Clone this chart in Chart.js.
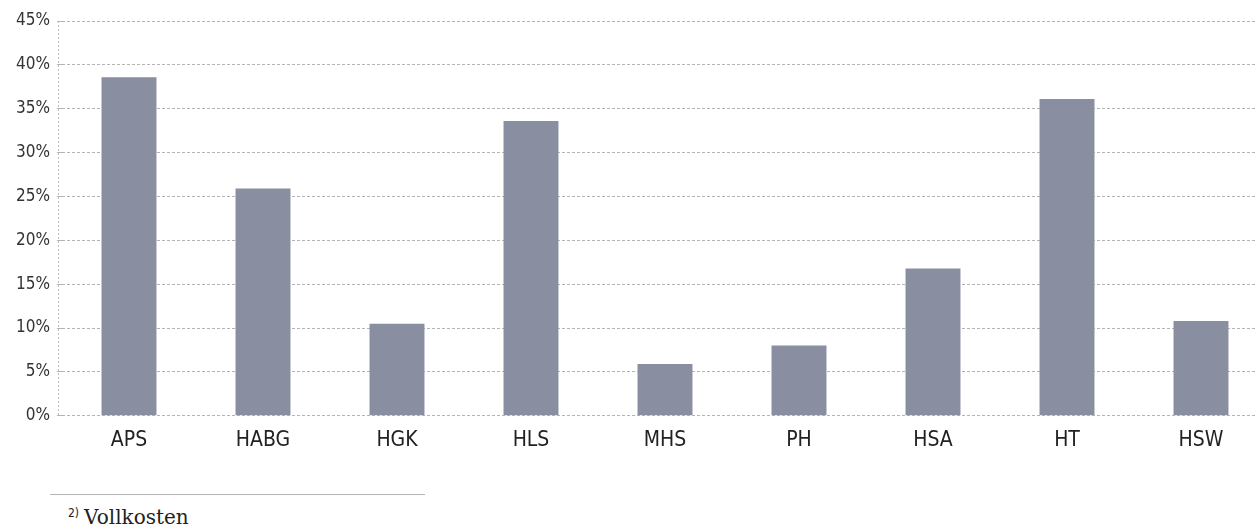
<!DOCTYPE html>
<html>
<head>
<meta charset="utf-8">
<script src="https://cdn.jsdelivr.net/npm/chart.js@4.4.1/dist/chart.umd.min.js"></script>
<style>
  html, body { margin: 0; padding: 0; background: #fff; overflow: hidden; }
  #wrap { position: relative; width: 1255px; height: 528px; overflow: hidden; }
  #chart { position: absolute; left: 0; top: 0; }
  #rule { position: absolute; left: 50px; top: 494px; width: 375px; border-top: 1px solid #b4b4b4; }
  #note { position: absolute; left: 68px; top: 505px; font-family: "DejaVu Serif", serif; font-size: 20px; color: #222; white-space: nowrap; }
  #note sup { font-family: "Liberation Sans Narrow", "DejaVu Sans Condensed", sans-serif; font-size: 12px; vertical-align: 7px; margin-right: 5px; }
</style>
</head>
<body>
<div id="wrap">
  <canvas id="chart" width="1272" height="458"></canvas>
  <div id="rule"></div>
  <div id="note"><sup>2)</sup>Vollkosten</div>
</div>
<script>
  // категории и значения (доля в %)
  const categories = ["APS", "HABG", "HGK", "HLS", "MHS", "PH", "HSA", "HT", "HSW"];
  const values = [38.6, 25.9, 10.5, 33.6, 5.9, 8.0, 16.8, 36.1, 10.8];
  const yTicks = [0, 5, 10, 15, 20, 25, 30, 35, 40, 45];

  const axisFont = '"Liberation Sans Narrow", "DejaVu Sans Condensed", "Roboto", sans-serif';

  // пунктирная вертикальная линия слева от области графика
  const leftLine = {
    id: "leftLine",
    beforeDatasetsDraw(chart) {
      const { ctx, chartArea: { left, top, bottom } } = chart;
      const x = Math.round(left - 4.5) + 0.5;
      ctx.save();
      ctx.strokeStyle = "#bdbdbd";
      ctx.lineWidth = 1;
      ctx.setLineDash([2, 2]);
      ctx.beginPath();
      ctx.moveTo(x, top);
      ctx.lineTo(x, bottom);
      ctx.stroke();
      ctx.restore();
    },
  };

  new Chart(document.getElementById("chart"), {
    type: "bar",
    data: {
      labels: categories,
      datasets: [
        {
          data: values,
          backgroundColor: "#898ea0",
          borderWidth: 0,
          barPercentage: 0.41,
          categoryPercentage: 1,
        },
      ],
    },
    options: {
      responsive: false,
      animation: false,
      layout: { padding: { top: 21, right: 4, bottom: 0, left: 0 } },
      plugins: { legend: { display: false }, tooltip: { enabled: false } },
      scales: {
        x: {
          grid: { display: false },
          border: { display: false },
          ticks: {
            color: "#222",
            font: { family: axisFont, size: 21 },
            padding: 4.5,
            maxRotation: 0,
          },
        },
        y: {
          min: 0,
          max: 45,
          afterFit(scale) { scale.width = 62; },
          afterBuildTicks(scale) { scale.ticks = yTicks.map((v) => ({ value: v })); },
          grid: {
            color: "#b4b4b4",
            lineWidth: 1,
            tickLength: 5,
            drawTicks: true,
          },
          border: { display: false, dash: [3, 2] },
          ticks: {
            color: "#333",
            font: { family: axisFont, size: 17 },
            padding: 7,
            callback: (v) => v + "%",
          },
        },
      },
    },
    plugins: [leftLine],
  });
</script>
</body>
</html>
